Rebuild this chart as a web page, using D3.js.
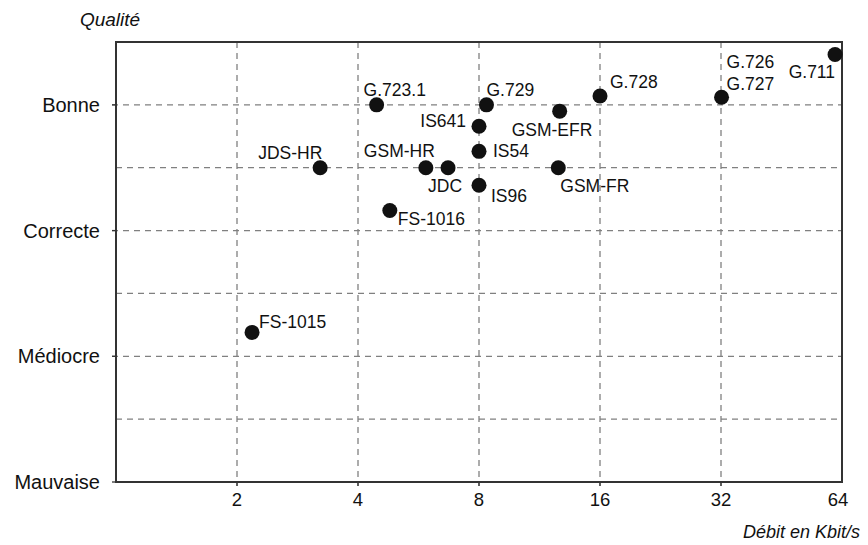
<!DOCTYPE html>
<html>
<head>
<meta charset="utf-8">
<script src="https://cdn.jsdelivr.net/npm/d3@7"></script>
<style>
  html, body { margin: 0; padding: 0; background: #fff; }
  svg { display: block; font-family: "Liberation Sans", Arial, Helvetica, sans-serif; }
</style>
</head>
<body>
<svg id="chart" width="868" height="545"></svg>
<script>
// ---- data ----
const codecs  = ["FS-1015","FS-1016","JDS-HR","G.723.1","GSM-HR","JDC","IS641","IS54","IS96","G.729","GSM-EFR","GSM-FR","G.728","G.726\nG.727","G.711"];
const bitrate = [2.18, 4.8, 3.22, 4.45, 5.9, 6.7, 8.0, 8.0, 8.0, 8.35, 12.7, 12.6, 16, 32.1, 61.5];
const quality = [1.19, 2.16, 2.5, 3.0, 2.5, 2.5, 2.83, 2.63, 2.36, 3.0, 2.95, 2.5, 3.07, 3.06, 3.4];
const xTicks = [2, 4, 8, 16, 32, 64];
const qualityLevels = [0, 1, 2, 3];
const qualityNames  = ["Mauvaise", "Médiocre", "Correcte", "Bonne"];
const halfLevels = [0.5, 1.5, 2.5];

// label placement (layout, px offsets from the dot)
const labelLayout = [
  [7, -11, "start"], [8, 8, "start"], [-62, -15, "start"], [-13, -15, "start"],
  [-62, -17, "start"], [-20, 18, "start"], [-13, -5, "end"], [14, 0, "start"],
  [12, 11, "start"], [0, -15, "start"], [-48, 19, "start"], [2, 18, "start"],
  [10, -14, "start"], [5, -35, "start"], [0, 17, "end"]
];

const svg = d3.select("#chart");
const L = 116, R = 842, T = 42, B = 482;

const x = d3.scaleLog().base(2).domain([1, 64]).range([L, R]);
const y = d3.scaleLinear().domain([0, 3.5]).range([B, T]);

const grid = svg.append("g").attr("stroke", "#808080").attr("stroke-width", 1.3)
  .attr("stroke-dasharray", "6,5").attr("fill", "none");

// vertical gridlines
grid.selectAll("line.v").data(xTicks.filter(d => d < 64)).join("line")
  .attr("x1", d => x(d)).attr("x2", d => x(d))
  .attr("y1", T).attr("y2", B + 4);
// horizontal gridlines (labelled levels)
grid.selectAll("line.h").data(qualityLevels.filter(d => d > 0)).join("line")
  .attr("x1", L - 4).attr("x2", R)
  .attr("y1", d => y(d)).attr("y2", d => y(d));
// half levels
grid.selectAll("line.hh").data(halfLevels).join("line")
  .attr("x1", L).attr("x2", R)
  .attr("y1", d => y(d)).attr("y2", d => y(d));

// small ticks outside frame
svg.append("g").attr("stroke", "#333").attr("stroke-width", 1.3)
  .selectAll("line").data(xTicks.filter(d => d < 64)).join("line")
  .attr("x1", d => x(d)).attr("x2", d => x(d)).attr("y1", B).attr("y2", B + 4);
svg.append("g").attr("stroke", "#333").attr("stroke-width", 1.3)
  .selectAll("line").data(qualityLevels).join("line")
  .attr("x1", L - 4).attr("x2", L).attr("y1", d => y(d)).attr("y2", d => y(d));

// frame
svg.append("rect").attr("x", L).attr("y", T).attr("width", R - L).attr("height", B - T)
  .attr("fill", "none").attr("stroke", "#333").attr("stroke-width", 2);

// x tick labels
svg.append("g").selectAll("text").data(xTicks).join("text")
  .attr("x", d => x(d) - (d === 64 ? 4 : 0)).attr("y", B + 18).attr("dy", "0.35em")
  .attr("text-anchor", "middle").attr("font-size", 18.5).attr("fill", "#111")
  .text(d => d);

// y labels
svg.append("g").selectAll("text").data(qualityLevels).join("text")
  .attr("x", L - 16).attr("y", d => y(d)).attr("dy", "0.35em")
  .attr("text-anchor", "end").attr("font-size", 20).attr("fill", "#111")
  .text((d, i) => qualityNames[i]);

// axis titles
svg.append("text").attr("x", 110).attr("y", 19).attr("dy", "0.35em")
  .attr("text-anchor", "middle").attr("font-size", 19).attr("font-style", "italic")
  .attr("fill", "#111").text("Qualité");
svg.append("text").attr("x", 860).attr("y", 532).attr("dy", "0.35em")
  .attr("text-anchor", "end").attr("font-size", 18).attr("font-style", "italic")
  .attr("fill", "#111").text("Débit en Kbit/s");

// points
const pts = codecs.map((c, i) => ({ name: c, r: bitrate[i], q: quality[i], lay: labelLayout[i] }));
svg.append("g").selectAll("circle").data(pts).join("circle")
  .attr("cx", d => x(d.r)).attr("cy", d => y(d.q)).attr("r", 7.5).attr("fill", "#111");

// labels
const lab = svg.append("g").attr("font-size", 17.5).attr("fill", "#111");
pts.forEach(d => {
  const lines = d.name.split("\n");
  lines.forEach((t, k) => {
    lab.append("text")
      .attr("x", x(d.r) + d.lay[0]).attr("y", y(d.q) + d.lay[1] + k * 22)
      .attr("dy", "0.35em").attr("text-anchor", d.lay[2]).text(t);
  });
});
</script>
</body>
</html>
